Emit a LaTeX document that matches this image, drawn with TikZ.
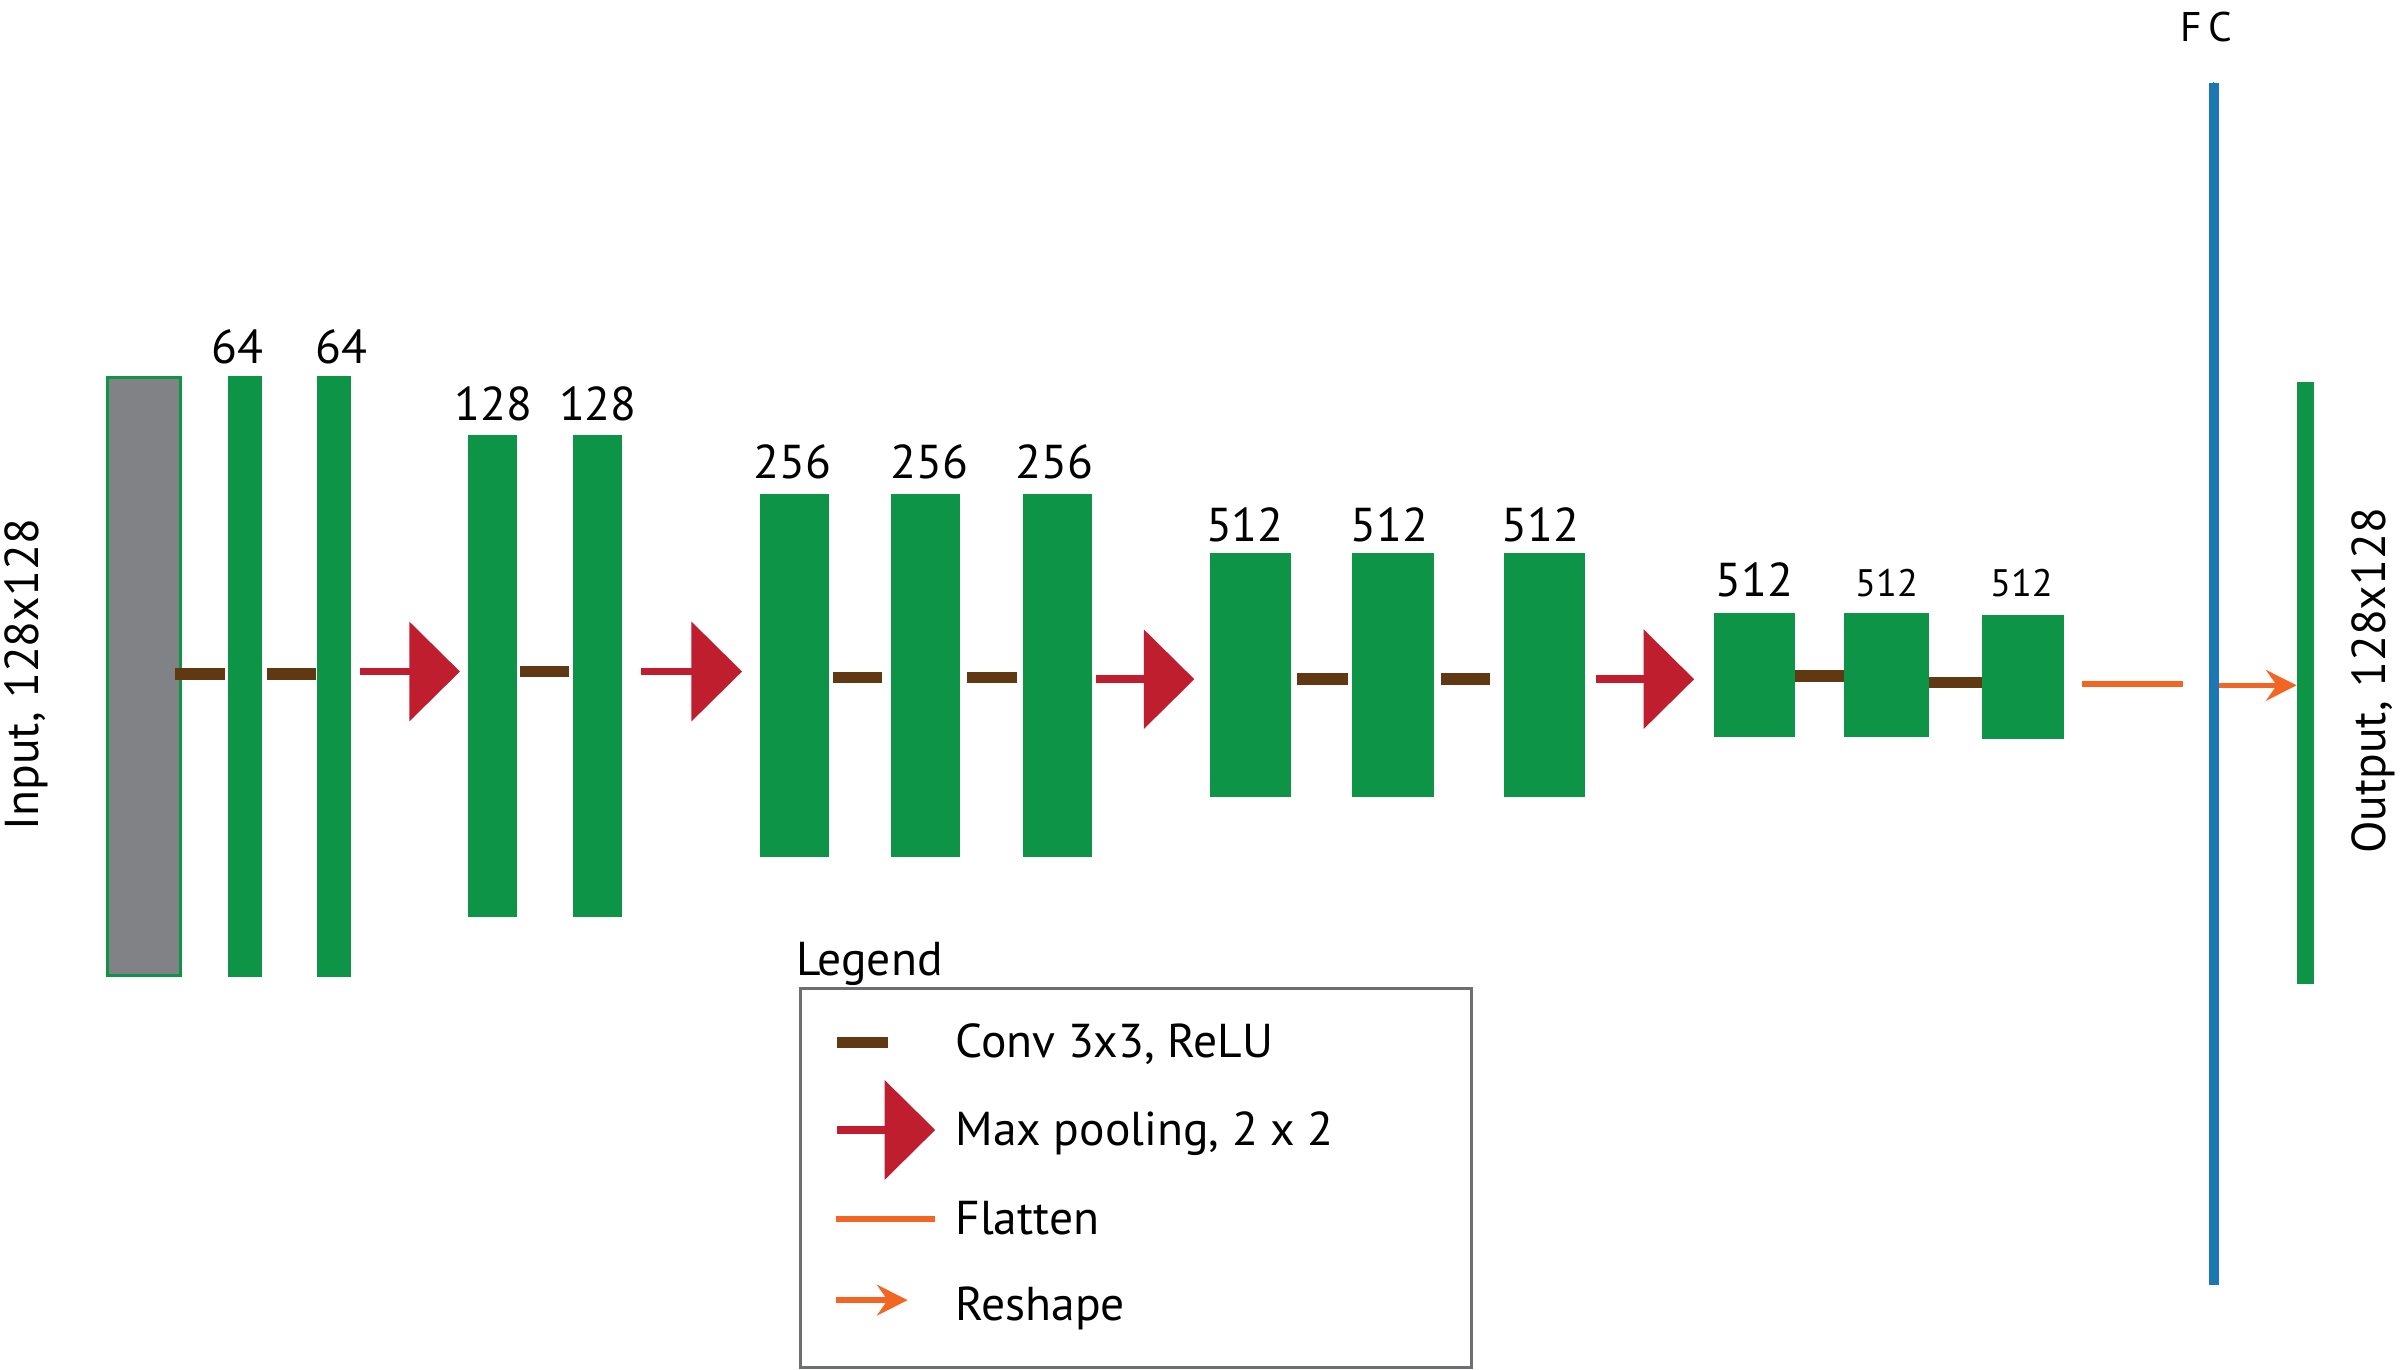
\documentclass[tikz,border=0pt]{standalone}
\usepackage{fontspec}
\setmainfont{PT Sans}
\usetikzlibrary{arrows.meta,calc}
\definecolor{cgreen}{RGB}{13,148,70}
\definecolor{cgray}{RGB}{128,130,133}
\definecolor{cbrown}{RGB}{96,57,19}
\definecolor{cred}{RGB}{190,30,45}
\definecolor{corange}{RGB}{242,101,34}
\definecolor{cblue}{RGB}{28,117,188}
\definecolor{lgray}{RGB}{109,110,113}
\tikzset{
  bar/.style={fill=cgreen, draw=none, inner sep=0pt, outer sep=0pt},
  conv/.style={draw=cbrown, line width=7.5pt},
  pool/.style={draw=cred, line width=5pt, -{Triangle[length=33pt,width=64pt]}},
  flat/.style={draw=corange, line width=4pt},
  reshape/.style={draw=corange, line width=3.5pt, -{Stealth[length=20pt,width=20pt,inset=7pt]}},
  lab/.style={font=\fontsize{31}{31}\selectfont, anchor=base, inner sep=0pt},
  slab/.style={font=\fontsize{25}{25}\selectfont, anchor=base, inner sep=0pt},
  ltxt/.style={font=\fontsize{31}{31}\selectfont, anchor=base west, inner sep=0pt},
}
\begin{document}
\begin{tikzpicture}[x=1pt,y=-1pt]
\useasboundingbox (0,0) rectangle (1568,893);
% input
\node[fill=cgray, draw=cgreen, line width=2pt, inner sep=0pt, minimum width=48pt, minimum height=390pt] (in) at (94,441) {};
\node[rotate=90, font=\fontsize{31}{31}\selectfont, inner sep=0pt] (inlab) at (17,440) {Input, 128x128};
% stage 1
\node[bar, minimum width=22pt, minimum height=392pt] (c1a) at (160,441) {};
\node[bar, minimum width=22pt, minimum height=392pt] (c1b) at (218,441) {};
% stage 2
\node[bar, minimum width=32pt, minimum height=314pt] (c2a) at (321,441) {};
\node[bar, minimum width=32pt, minimum height=314pt] (c2b) at (390,441) {};
% stage 3
\node[bar, minimum width=45pt, minimum height=237pt] (c3a) at (518.5,440.5) {};
\node[bar, minimum width=45pt, minimum height=237pt] (c3b) at (603.5,440.5) {};
\node[bar, minimum width=45pt, minimum height=237pt] (c3c) at (689.5,440.5) {};
% stage 4
\node[bar, minimum width=53pt, minimum height=159pt] (c4a) at (815.5,440.5) {};
\node[bar, minimum width=53pt, minimum height=159pt] (c4b) at (908.5,440.5) {};
\node[bar, minimum width=53pt, minimum height=159pt] (c4c) at (1007.5,440.5) {};
% stage 5
\node[bar, minimum width=53pt, minimum height=81pt] (c5a) at (1144.5,440.5) {};
\node[bar, minimum width=55pt, minimum height=81pt] (c5b) at (1230.5,440.5) {};
\node[bar, minimum width=53pt, minimum height=81pt] (c5c) at (1319.5,441.5) {};
% FC and output
\node[fill=cblue, inner sep=0pt, minimum width=6pt, minimum height=784pt] (fc) at (1444,446) {};
\draw[cgreen!60!cblue, line width=0.6pt] (fc.north) -- (fc.south);
\node[font=\fontsize{27}{27}\selectfont, anchor=base, inner sep=0pt] (fclab) at (1439,27) {F\,C};
\node[bar, minimum width=11pt, minimum height=393pt] (out) at (1503.5,445.5) {};
\node[rotate=90, font=\fontsize{31}{31}\selectfont, inner sep=0pt] (outlab) at (1548,444) {Output, 128x128};
% labels
\node[lab] (l64a) at ($(c1a.north)+(-5,-8)$) {64};
\node[lab] (l64b) at ($(c1b.north)+(5,-8)$) {64};
\node[lab] (l128a) at ($(c2a.north)+(1,-10)$) {128};
\node[lab] (l128b) at ($(c2b.north)+(0,-10)$) {128};
\node[lab] (l256a) at ($(c3a.north)+(-1.5,-10)$) {256};
\node[lab] (l256b) at ($(c3b.north)+(2.5,-10)$) {256};
\node[lab] (l256c) at ($(c3c.north)+(-1.5,-10)$) {256};
\node[lab] (l512a) at ($(c4a.north)+(-3.5,-8)$) {512};
\node[lab] (l512b) at ($(c4b.north)+(-2.5,-8)$) {512};
\node[lab] (l512c) at ($(c4c.north)+(-2.5,-8)$) {512};
\node[lab] (l512d) at ($(c5a.north)+(0,-11)$) {512};
\node[slab] (l512e) at ($(c5b.north)+(0,-11)$) {512};
\node[slab] (l512f) at ($(c5c.north)+(-1,-12)$) {512};
% conv connectors
\draw[conv] ([xshift=-5pt,yshift=1.5pt]in.east) -- ([xshift=-2pt,yshift=1.5pt]c1a.west);
\draw[conv] ([xshift=3pt,yshift=1.5pt]c1a.east) -- ([xshift=-1pt,yshift=1.5pt]c1b.west);
\draw[conv] ([xshift=2pt,yshift=3pt]c2a.east) -- ([xshift=-3pt,yshift=3pt]c2b.west);
\draw[conv] ([xshift=2pt,yshift=-1.5pt]c3a.east) -- ([xshift=-6pt,yshift=-1.5pt]c3b.west);
\draw[conv] ([xshift=5pt,yshift=-1.5pt]c3b.east) -- ([xshift=-4pt,yshift=-1.5pt]c3c.west);
\draw[conv] ([xshift=4pt,yshift=-2.5pt]c4a.east) -- ([xshift=-3pt,yshift=-2.5pt]c4b.west);
\draw[conv] ([xshift=5pt,yshift=-2.5pt]c4b.east) -- ([xshift=-9pt,yshift=-2.5pt]c4c.west);
\draw[conv] ([yshift=-0.5pt]c5a.east) -- ([yshift=-0.5pt]c5b.west);
\draw[conv] ([yshift=-4.5pt]c5b.east) -- ([yshift=-3.5pt]c5c.west);
% pooling
\draw[pool] ([xshift=6pt,yshift=3pt]c1b.east) -- ([xshift=-5pt,yshift=3pt]c2a.west);
\draw[pool] ([xshift=12pt,yshift=3pt]c2b.east) -- ([xshift=-12pt,yshift=2.5pt]c3a.west);
\draw[pool] ([xshift=3pt,yshift=-2.5pt]c3c.east) -- ([xshift=-10pt,yshift=-2.5pt]c4a.west);
\draw[pool] ([xshift=7pt,yshift=-2.5pt]c4c.east) -- ([xshift=-13pt,yshift=-2.5pt]c5a.west);
% flatten & reshape
\draw[flat] ([xshift=12pt,yshift=-4.5pt]c5c.east) -- ([xshift=-17pt]fc.west);
\draw[reshape] ([yshift=-1pt]fc.east) -- ([yshift=-1.5pt]out.west);
% legend
\node[ltxt] (legtitle) at (519,636) {Legend};
\node[draw=lgray, line width=2pt, inner sep=0pt, minimum width=438pt, minimum height=247pt, anchor=north west] (legend) at (521,644) {};
\coordinate (k1a) at (546,680); \coordinate (k1b) at (579,680);
\coordinate (k2a) at (546,737); \coordinate (k2b) at (610,737);
\coordinate (k3a) at (545,795); \coordinate (k3b) at (610,795);
\coordinate (k4a) at (545,848); \coordinate (k4b) at (592,848);
\draw[conv] (k1a) -- (k1b);
\draw[pool] (k2a) -- (k2b);
\draw[flat] (k3a) -- (k3b);
\draw[reshape] (k4a) -- (k4b);
\node[ltxt] (t1) at (623,690) {Conv 3x3, ReLU};
\node[ltxt] (t2) at (623,747) {Max pooling, 2 x 2};
\node[ltxt] (t3) at (623,805) {Flatten};
\node[ltxt] (t4) at (623,861) {Reshape};
\end{tikzpicture}
\end{document}
